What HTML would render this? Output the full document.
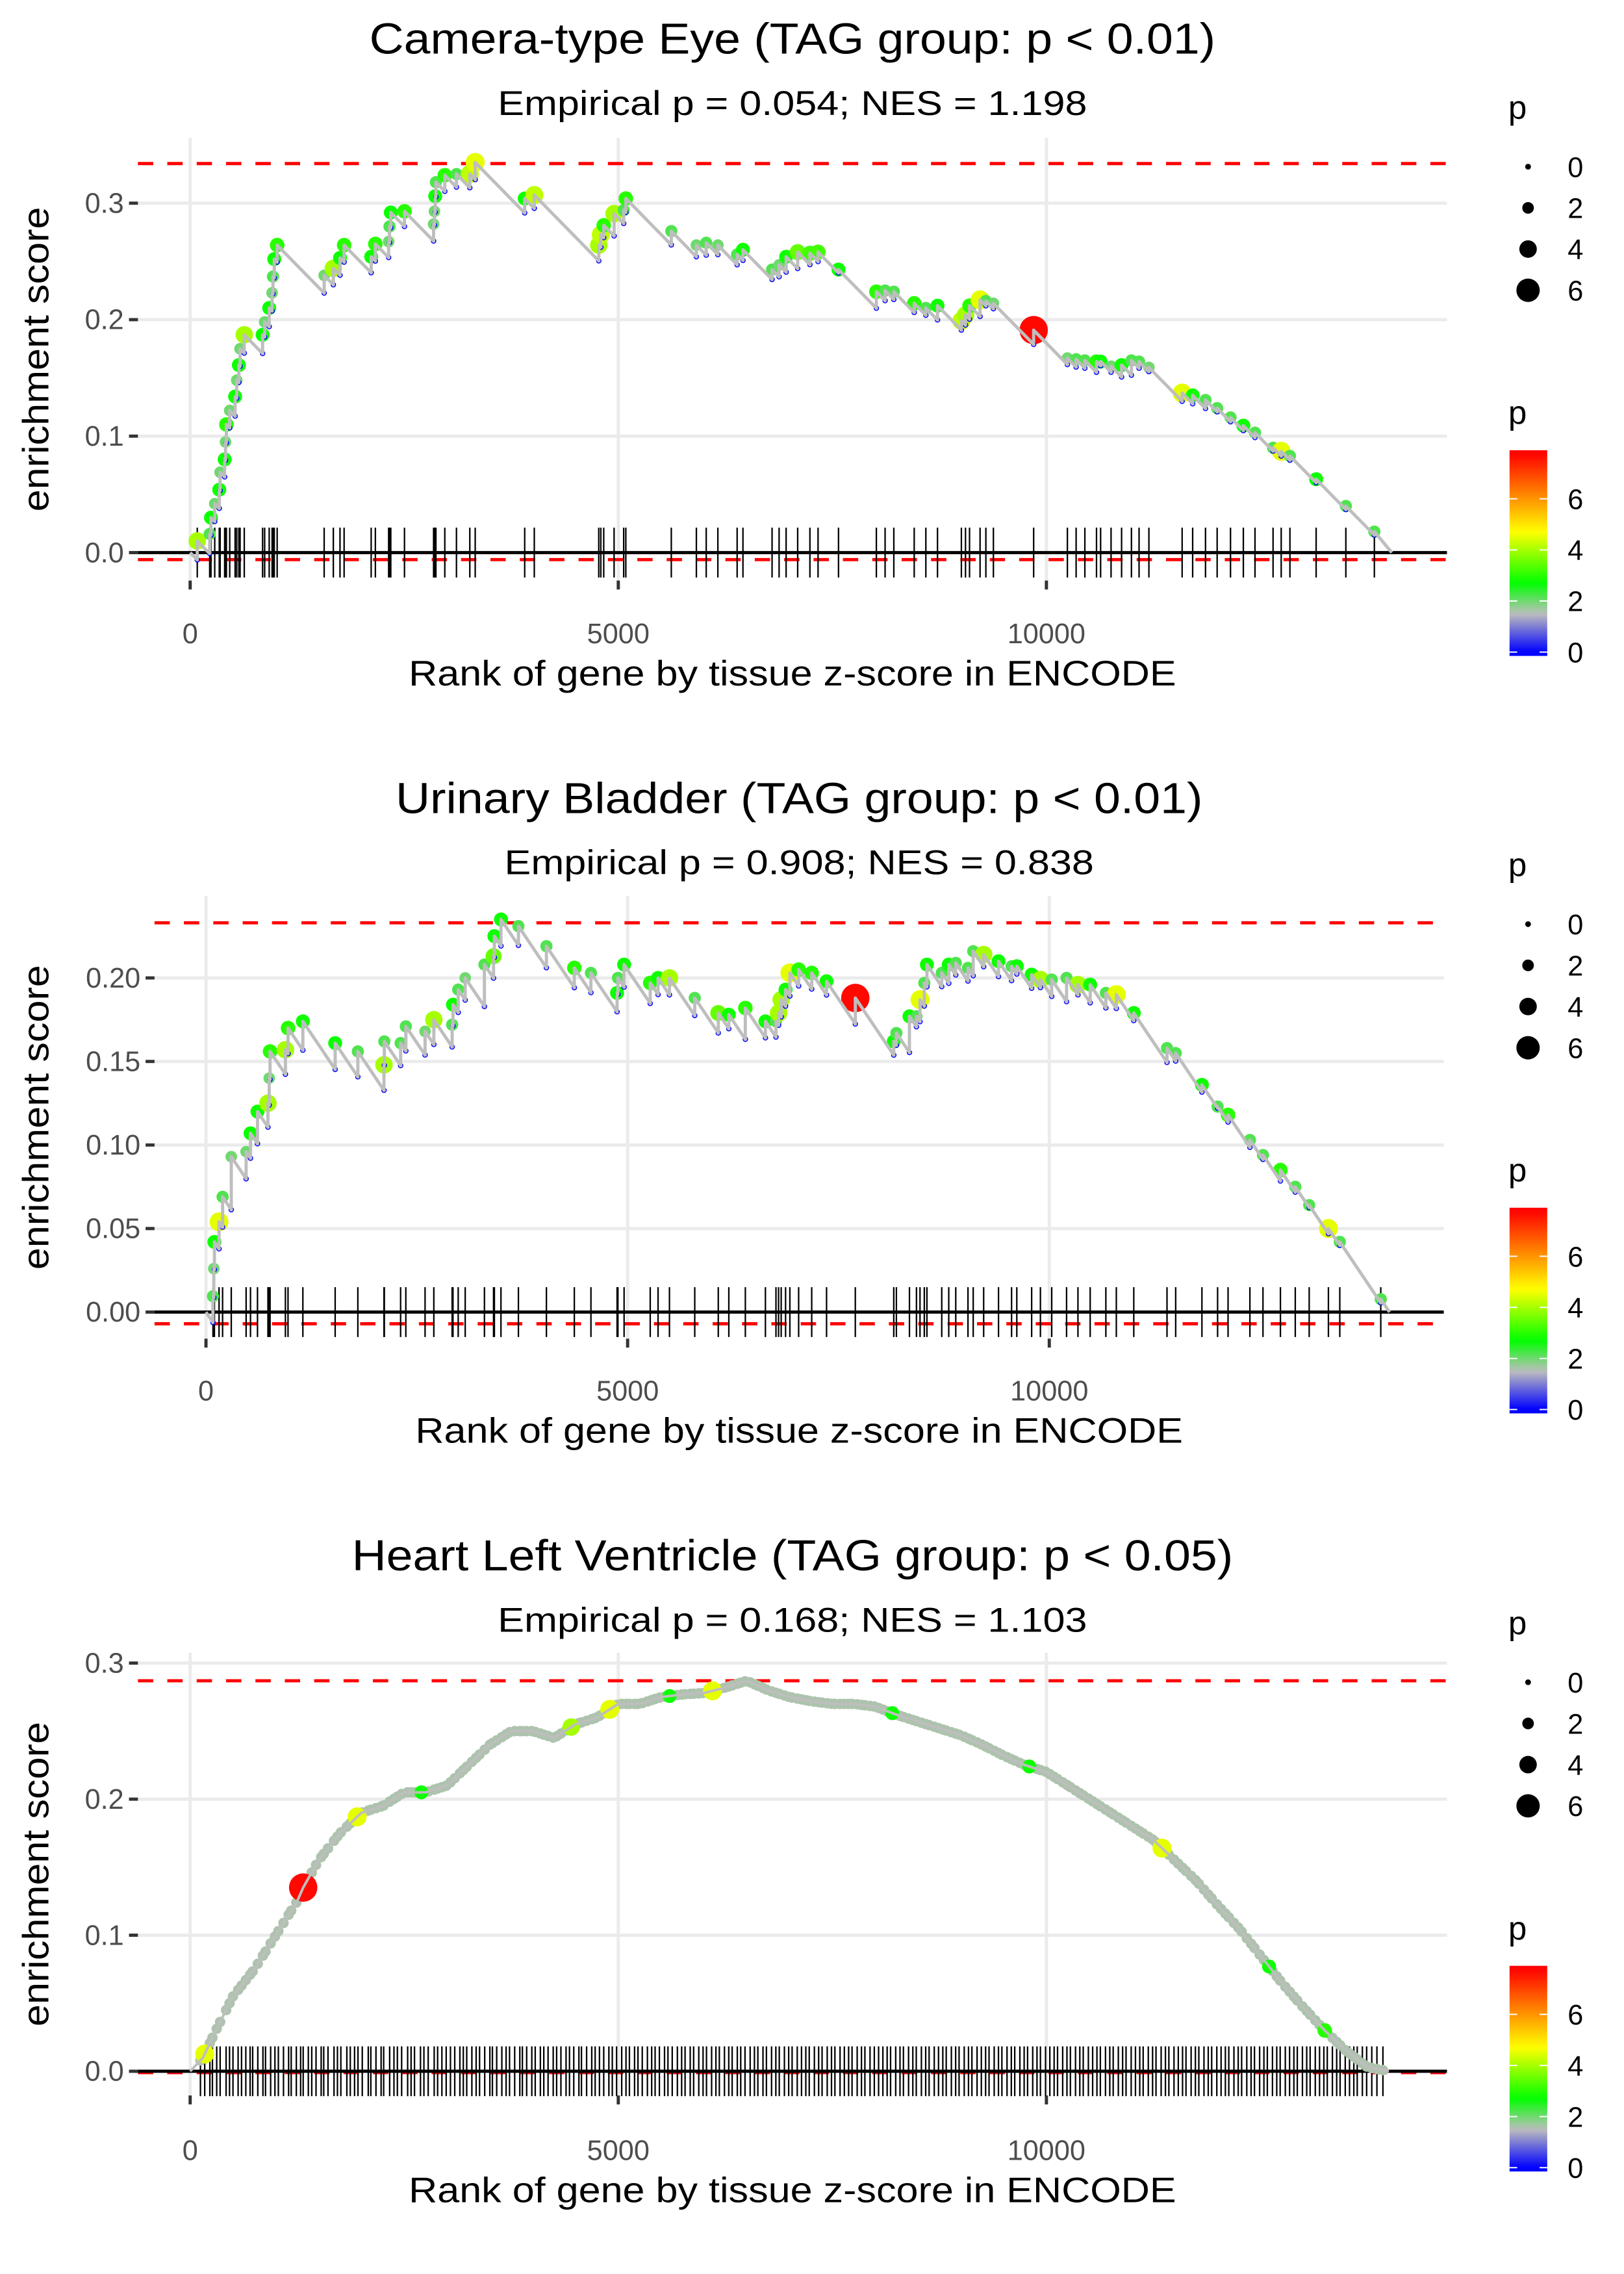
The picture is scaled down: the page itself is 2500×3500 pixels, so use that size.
<!DOCTYPE html>
<html><head><meta charset="utf-8"><style>
html,body{margin:0;padding:0;background:#fff;}
svg{display:block;}
text{font-family:"Liberation Sans",Arial,sans-serif;}
</style></head>
<body>
<svg id="chart" xmlns="http://www.w3.org/2000/svg" width="2500" height="3500" viewBox="0 0 2500 3500">
<defs>
<linearGradient id="pgrad" x1="0" y1="1" x2="0" y2="0"></linearGradient>
</defs>
<rect x="0" y="0" width="2500" height="3500" fill="#fff"/>
<g id="root" transform="scale(0.983)"></g>
</svg>
<script>
// ---------------- Panel 1 data: Camera-type Eye ----------------
const p1Rank = [83,228,243,287,340,350,403,413,423,462,525,544,569,583,632,846,870,923,957,967,982,1016,1565,1672,1750,1798,2114,2163,2318,2328,2343,2503,2843,2853,2862,2870,2974,3110,3266,3329,3907,4019,4772,4796,4830,4951,5063,5088,5619,5912,6027,6163,6388,6456,6796,6878,6960,7095,7238,7333,7572,8014,8116,8218,8456,8592,8728,9007,9055,9102,9225,9293,9381,9851,10245,10347,10449,10585,10633,10755,10878,10993,11082,11197,11585,11708,11858,11994,12150,12300,12436,12647,12742,12844,13150,13497,13830];
const p1ES = [0.010,0.016,0.030,0.042,0.054,0.069,0.080,0.095,0.110,0.122,0.134,0.148,0.161,0.175,0.187,0.187,0.198,0.210,0.223,0.237,0.252,0.264,0.238,0.244,0.253,0.264,0.254,0.265,0.267,0.280,0.292,0.293,0.282,0.293,0.306,0.318,0.324,0.325,0.325,0.335,0.304,0.307,0.264,0.273,0.281,0.291,0.294,0.304,0.276,0.264,0.266,0.264,0.256,0.260,0.243,0.247,0.254,0.258,0.257,0.258,0.243,0.224,0.225,0.224,0.214,0.210,0.212,0.199,0.204,0.212,0.217,0.216,0.214,0.191,0.167,0.166,0.165,0.164,0.164,0.160,0.161,0.165,0.164,0.159,0.137,0.135,0.131,0.124,0.116,0.109,0.103,0.090,0.087,0.083,0.063,0.040,0.018];
const p1P = [4,2.2,2.8,2.0,2.8,2.0,2.8,2.0,3.0,2.0,2.8,2.0,2.8,2.0,4.0,2.8,2.0,2.8,2.0,2.2,2.8,3.0,2.0,4.0,2.8,3.0,2.8,3.0,2.0,2.2,2.8,3.0,2.0,2.0,2.8,2.2,3.0,2.2,4.2,4.5,2.8,4.2,4.0,4.2,3.0,4.0,2.2,3.0,2.2,2.0,2.2,2.0,2.2,2.8,2.2,2.0,2.8,3.5,3.2,3.2,2.8,3.0,2.2,2.2,3.0,2.2,2.8,4.2,4.0,3.0,4.5,2.2,2.0,7.7,2.0,2.2,2.2,3.0,2.8,2.0,2.8,2.2,2.2,2.0,4.5,2.8,2.2,2.2,2.2,2.8,2.2,2.2,4.5,2.2,2.8,2.2,2.2];
const p1EndRank = 14034;
const p1MissStep = 0.000075;
const p1Limits = [0.334, -0.006];

// ---------------- Panel 2 data: Urinary Bladder ----------------
const p2Rank = [83,93,100,155,197,300,476,528,611,735,750,760,942,973,1149,1532,1801,2111,2115,2308,2370,2598,2702,2919,2929,2991,3074,3302,3410,3420,3498,3705,4037,4368,4565,4875,4885,4958,5268,5361,5496,5796,6075,6200,6396,6634,6759,6790,6821,6873,6924,7028,7183,7359,7700,8156,8187,8342,8425,8467,8518,8549,8725,8808,8891,9036,9098,9222,9398,9553,9615,9791,9895,10029,10205,10340,10485,10671,10795,11002,11396,11499,11810,11996,12120,12379,12534,12741,12917,13082,13310,13445,13931];
const p2ES = [0.0095,0.026,0.042,0.054,0.069,0.093,0.096,0.107,0.120,0.125,0.140,0.156,0.157,0.170,0.174,0.161,0.156,0.148,0.162,0.161,0.171,0.168,0.175,0.172,0.184,0.193,0.200,0.208,0.213,0.225,0.235,0.231,0.219,0.206,0.203,0.191,0.200,0.208,0.197,0.200,0.200,0.188,0.179,0.178,0.182,0.174,0.174,0.179,0.187,0.193,0.203,0.205,0.203,0.198,0.188,0.162,0.167,0.177,0.177,0.187,0.197,0.208,0.203,0.208,0.209,0.206,0.216,0.214,0.210,0.207,0.207,0.202,0.199,0.199,0.200,0.196,0.196,0.191,0.190,0.179,0.158,0.155,0.136,0.123,0.118,0.103,0.094,0.085,0.075,0.064,0.050,0.042,0.0077];
const p2P = [2.2,2.0,2.8,4.5,2.2,2.0,2.0,2.8,2.8,4.0,2.0,3.0,4.0,3.0,2.8,2.8,2.2,4.0,2.2,2.2,2.2,2.0,4.0,2.2,2.8,2.2,2.0,2.2,3.5,2.8,2.8,2.2,2.2,3.0,2.2,2.8,2.2,2.8,3.0,2.8,4.0,2.2,3.5,2.8,3.0,2.8,2.2,4.0,4.0,2.8,4.5,3.0,3.0,2.8,7.7,2.8,2.2,2.8,2.2,4.5,2.2,2.8,2.2,2.8,2.2,2.2,2.2,4.0,2.8,2.2,2.8,2.8,4.0,2.2,2.2,4.0,2.8,2.2,4.5,2.8,2.2,2.2,2.8,2.2,3.0,2.2,2.2,3.0,2.2,2.2,4.5,2.2,2.2];
const p2EndRank = 14035;
const p2MissStep = 0.000075;
const p2Limits = [0.233, -0.007];

// ---------------- Panel 3 data: Heart Left Ventricle ----------------
const p3CurveRank = [0,150,300,500,750,1000,1250,1320,1500,1750,2000,2250,2500,2750,3000,3250,3500,3750,4000,4250,4500,4750,5000,5250,5500,5750,6000,6250,6500,6750,7000,7250,7500,7750,8000,8250,8500,8750,9000,9250,9500,9750,10000,10250,10500,10750,11000,11250,11500,11750,12000,12250,12500,12750,13000,13250,13500,13750,14000];
const p3CurveES = [0,0.010,0.030,0.055,0.075,0.100,0.125,0.135,0.155,0.175,0.190,0.195,0.205,0.205,0.210,0.225,0.240,0.250,0.250,0.245,0.255,0.260,0.270,0.270,0.275,0.277,0.278,0.282,0.287,0.280,0.275,0.272,0.270,0.270,0.268,0.262,0.257,0.252,0.247,0.240,0.232,0.225,0.220,0.210,0.200,0.190,0.180,0.170,0.155,0.140,0.122,0.105,0.085,0.065,0.047,0.030,0.015,0.003,0];
const p3HitRank = [120,170,230,260,310,350,420,460,500,560,600,650,700,730,790,850,880,940,990,1030,1090,1150,1180,1240,1290,1320,1380,1420,1470,1530,1560,1610,1680,1720,1760,1830,1870,1920,1960,2010,2080,2110,2170,2230,2260,2330,2380,2420,2470,2540,2580,2620,2690,2730,2780,2850,2890,2940,2990,3040,3090,3150,3190,3230,3290,3340,3380,3440,3500,3530,3580,3640,3690,3730,3790,3850,3880,3930,3990,4030,4090,4130,4180,4240,4280,4330,4390,4430,4480,4540,4570,4630,4690,4730,4780,4830,4890,4930,4980,5040,5090,5130,5190,5230,5280,5340,5390,5430,5480,5540,5580,5630,5690,5740,5780,5840,5880,5940,5990,6030,6090,6140,6180,6240,6290,6330,6390,6430,6480,6540,6590,6630,6690,6730,6790,6840,6880,6940,6990,7030,7090,7140,7190,7230,7290,7340,7380,7440,7490,7530,7590,7640,7690,7730,7790,7840,7880,7940,7990,8040,8090,8140,8180,8240,8290,8330,8390,8440,8480,8540,8590,8630,8690,8740,8790,8830,8890,8940,8980,9040,9090,9130,9190,9240,9290,9330,9390,9440,9480,9540,9590,9630,9690,9740,9780,9840,9890,9930,9990,10040,10090,10130,10190,10240,10280,10340,10390,10430,10490,10540,10590,10630,10690,10740,10780,10840,10890,10930,10990,11040,11090,11130,11190,11240,11280,11340,11390,11430,11490,11540,11590,11630,11690,11740,11780,11840,11890,11930,11990,12040,12090,12130,12190,12240,12280,12340,12390,12430,12490,12540,12580,12640,12690,12730,12790,12840,12890,12930,12990,13040,13080,13140,13190,13240,13280,13340,13390,13430,13490,13540,13590,13630,13690,13740,13800,13860,13930];
const p3DefaultP = 1.6;
const p3HiRank = [170, 1320, 1950, 4450, 4900, 6100, 11350, 13250, 2700, 5600, 8200, 9800, 12600];
const p3HiP = [4.5, 7.7, 4.5, 4.0, 4.5, 4.5, 4.5, 3.0, 2.8, 2.8, 2.8, 2.8, 2.8];
const p3Limits = [0.287, -0.001];

// ---------------- Shared axis / legend labels ----------------
const xTicks = [0, 5000, 10000];
const xTickLabels = ["0", "5000", "10000"];
const yTicksA = [0, 0.1, 0.2, 0.3];
const yTickLabelsA = ["0.0", "0.1", "0.2", "0.3"];
const yTicksB = [0, 0.05, 0.10, 0.15, 0.20];
const yTickLabelsB = ["0.00", "0.05", "0.10", "0.15", "0.20"];
const sizeLegendValues = [0, 2, 4, 6];
const colorLegendValues = [0, 2, 4, 6];
const colorDomain = [-0.15, 7.9];

const SVGNS = "http://www.w3.org/2000/svg";
const svg = document.getElementById("root");

function mk(tag, attrs, parent) {
  const e = document.createElementNS(SVGNS, tag);
  for (const k in attrs) e.setAttribute(k, attrs[k]);
  (parent || svg).appendChild(e);
  return e;
}

const cStops = [[0,[0,0,255]],[1.5,[190,190,190]],[2.7,[0,255,0]],[4.7,[255,255,0]],[7.8,[255,0,0]]];
function pColor(p) {
  if (p <= cStops[0][0]) return "rgb(0,0,255)";
  for (let i = 1; i < cStops.length; i++) {
    if (p <= cStops[i][0]) {
      const a = cStops[i-1], b = cStops[i];
      const t = (p - a[0]) / (b[0] - a[0]);
      const c = a[1].map((v, j) => Math.round(v + (b[1][j] - v) * t));
      return "rgb(" + c.join(",") + ")";
    }
  }
  return "rgb(255,0,0)";
}
function pRadius(p) { return 4.5 + 2.3 * Math.max(0, p); }

(function(){
  const g = document.getElementById("pgrad");
  for (let i = 0; i <= 40; i++) {
    const p = colorDomain[0] + (colorDomain[1] - colorDomain[0]) * i / 40;
    const s = document.createElementNS(SVGNS, "stop");
    s.setAttribute("offset", (i / 40 * 100) + "%");
    s.setAttribute("stop-color", pColor(p));
    g.appendChild(s);
  }
})();

function interp(xs, ys, x) {
  if (x <= xs[0]) return ys[0];
  for (let i = 1; i < xs.length; i++) {
    if (x <= xs[i]) {
      const t = (x - xs[i-1]) / (xs[i] - xs[i-1]);
      return ys[i-1] + (ys[i] - ys[i-1]) * t;
    }
  }
  return ys[ys.length - 1];
}

function drawPanel(cfg) {
  const g = mk("g", {});
  
  
  const X = r => cfg.left + (r - cfg.xdom[0]) / (cfg.xdom[1] - cfg.xdom[0]) * (cfg.right - cfg.left);
  const Y = v => cfg.bottom - (v - cfg.ydom[0]) / (cfg.ydom[1] - cfg.ydom[0]) * (cfg.bottom - cfg.top);

  cfg.yTicks.forEach((t, i) => {
    const l = mk("line", {x1: cfg.left, x2: cfg.right, y1: Y(t), y2: Y(t), stroke: "#ebebeb", "stroke-width": 5}, g);
    
    
  });
  xTicks.forEach(t => {
    const l = mk("line", {x1: X(t), x2: X(t), y1: cfg.top, y2: cfg.bottom, stroke: "#ebebeb", "stroke-width": 5}, g);
    
    
  });

  cfg.yTicks.forEach((t, i) => {
    const tk = mk("line", {x1: cfg.left - 14, x2: cfg.left, y1: Y(t), y2: Y(t), stroke: "#333", "stroke-width": 5}, g);
    
    
    const tx = mk("text", {x: cfg.left - 22, y: Y(t) + 15, "text-anchor": "end", "font-size": 44, fill: "#4d4d4d"}, g);
    tx.textContent = cfg.yLabels[i];
    
    
  });
  xTicks.forEach((t, i) => {
    const tk = mk("line", {x1: X(t), x2: X(t), y1: cfg.bottom, y2: cfg.bottom + 14, stroke: "#333", "stroke-width": 5}, g);
    
    
    const tx = mk("text", {x: X(t), y: cfg.xLabY, "text-anchor": "middle", "font-size": 44, fill: "#4d4d4d"}, g);
    tx.textContent = xTickLabels[i];
    
    
  });

  cfg.limits.forEach(v => {
    const l = mk("line", {x1: cfg.left, x2: cfg.right, y1: Y(v), y2: Y(v), stroke: "#ff0000", "stroke-width": 5, "stroke-dasharray": "24 22"}, g);
    
    
  });

  const z = mk("line", {x1: cfg.left, x2: cfg.right, y1: Y(0), y2: Y(0), stroke: "#000", "stroke-width": 5}, g);
  
  

  cfg.rug.forEach(r => {
    const l = mk("line", {x1: X(r), x2: X(r), y1: Y(0) - 39, y2: Y(0) + 39, stroke: "#000", "stroke-width": 2.3}, g);
    
    
  });

  cfg.points.forEach(pt => {
    const c = mk("circle", {cx: X(pt[0]), cy: Y(pt[1]), r: pRadius(pt[2]), fill: pColor(pt[2])}, g);
    
    
  });
  (cfg.prePoints || []).forEach(pt => {
    const c = mk("circle", {cx: X(pt[0]), cy: Y(pt[1]), r: 3.5, fill: "none", stroke: "#0000ff", "stroke-width": 1.5}, g);
    
    
  });

  const d = cfg.line.map((p, i) => (i ? "L" : "M") + X(p[0]).toFixed(1) + "," + Y(p[1]).toFixed(1)).join(" ");
  const pl = mk("path", {d: d, fill: "none", stroke: "#bebebe", "stroke-width": cfg.lineW || 5, "stroke-linejoin": "round"}, g);
  
  

  const cx = (cfg.left + cfg.right) / 2;
  const t1 = mk("text", {x: cx, y: cfg.titleY, "text-anchor": "middle", "font-size": 68, fill: "#000", textLength: cfg.titleW, lengthAdjust: "spacingAndGlyphs"}, g);
  t1.textContent = cfg.title;
  
  
  const t2 = mk("text", {x: cx, y: cfg.titleY + 96, "text-anchor": "middle", "font-size": 54, fill: "#000", textLength: 923, lengthAdjust: "spacingAndGlyphs"}, g);
  t2.textContent = cfg.subtitle;
  
  
  const xt = mk("text", {x: cx, y: cfg.xLabY + 66, "text-anchor": "middle", "font-size": 56, fill: "#000", textLength: 1202, lengthAdjust: "spacingAndGlyphs"}, g);
  xt.textContent = "Rank of gene by tissue z-score in ENCODE";
  
  
  const ycy = (cfg.top + cfg.bottom) / 2;
  const yt = mk("text", {x: 0, y: 0, "text-anchor": "middle", "font-size": 58, fill: "#000", textLength: 477, lengthAdjust: "spacingAndGlyphs", transform: "translate(76," + ycy + ") rotate(-90)"}, g);
  yt.textContent = "enrichment score";
  
  

  const oy = cfg.legendOffset;
  const lg = mk("g", {}, g);
  
  
  const lt = mk("text", {x: 2362, y: 186 + oy, "font-size": 52, fill: "#000"}, lg);
  lt.textContent = "p";
  
  
  sizeLegendValues.forEach((v, i) => {
    const yy = 261 + i * 64.5 + oy;
    const c = mk("circle", {cx: 2393, cy: yy, r: pRadius(v), fill: "#000"}, lg);
    
    
    const tx = mk("text", {x: 2455, y: yy + 16, "font-size": 44, fill: "#000"}, lg);
    tx.textContent = String(v);
    
    
  });
  const cg = mk("g", {}, g);
  
  
  const ct = mk("text", {x: 2362, y: 664 + oy, "font-size": 52, fill: "#000"}, cg);
  ct.textContent = "p";
  
  
  const barTop = 705 + oy, barBot = 1027 + oy;
  const bar = mk("rect", {x: 2364, y: barTop, width: 59, height: barBot - barTop, fill: "url(#pgrad)"}, cg);
  
  
  const CY = v => barBot - (v - colorDomain[0]) / (colorDomain[1] - colorDomain[0]) * (barBot - barTop);
  colorLegendValues.forEach(v => {
    const a = mk("line", {x1: 2364, x2: 2376, y1: CY(v), y2: CY(v), stroke: "#fff", "stroke-width": 2}, cg);
    
    
    const b = mk("line", {x1: 2411, x2: 2423, y1: CY(v), y2: CY(v), stroke: "#fff", "stroke-width": 2}, cg);
    
    
    const tx = mk("text", {x: 2455, y: CY(v) + 16, "font-size": 44, fill: "#000"}, cg);
    tx.textContent = String(v);
    
    
  });
}

function sawtooth(ranks, es, ps, endRank, step) {
  const line = [[0, 0]], points = [], pre = [];
  let prevR = 0, prevE = 0;
  for (let i = 0; i < ranks.length; i++) {
    const before = prevE - step * (ranks[i] - prevR);
    line.push([ranks[i], before]);
    line.push([ranks[i], es[i]]);
    pre.push([ranks[i], before]);
    points.push([ranks[i], es[i], ps[i]]);
    prevR = ranks[i]; prevE = es[i];
  }
  line.push([endRank, 0]);
  return {line, points, pre};
}

const s1 = sawtooth(p1Rank, p1ES, p1P, p1EndRank, p1MissStep);
drawPanel({
  name: "panel-camera-type-eye", left: 216, right: 2266, top: 216, bottom: 909,
  xdom: [-610, 14678], ydom: [-0.024, 0.356],
  yTicks: yTicksA, yLabels: yTickLabelsA, xLabY: 1007,
  limits: p1Limits, rug: p1Rank, points: s1.points, prePoints: s1.pre, line: s1.line,
  title: "Camera-type Eye (TAG group: p < 0.01)", titleW: 1325, titleY: 84,
  subtitle: "Empirical p = 0.054; NES = 1.198", legendOffset: 0
});

const s2 = sawtooth(p2Rank, p2ES, p2P, p2EndRank, p2MissStep);
drawPanel({
  name: "panel-urinary-bladder", left: 242, right: 2261, top: 1403, bottom: 2096,
  xdom: [-610, 14678], ydom: [-0.0159, 0.249],
  yTicks: yTicksB, yLabels: yTickLabelsB, xLabY: 2193,
  limits: p2Limits, rug: p2Rank, points: s2.points, prePoints: s2.pre, line: s2.line,
  title: "Urinary Bladder (TAG group: p < 0.01)", titleW: 1264, titleY: 1273,
  subtitle: "Empirical p = 0.908; NES = 0.838", legendOffset: 1186
});

const p3Points = p3HitRank.map(r => [r, interp(p3CurveRank, p3CurveES, r), p3DefaultP]);
p3HiRank.forEach((r, i) => p3Points.push([r, interp(p3CurveRank, p3CurveES, r), p3HiP[i]]));
drawPanel({
  name: "panel-heart-left-ventricle", left: 216, right: 2266, top: 2588, bottom: 3281,
  xdom: [-610, 14678], ydom: [-0.0178, 0.3075],
  yTicks: yTicksA, yLabels: yTickLabelsA, xLabY: 3382,
  limits: p3Limits, rug: p3HitRank, points: p3Points, prePoints: [],
  line: p3CurveRank.map((r, i) => [r, p3CurveES[i]]), lineW: 4,
  title: "Heart Left Ventricle (TAG group: p < 0.05)", titleW: 1380, titleY: 2459,
  subtitle: "Empirical p = 0.168; NES = 1.103", legendOffset: 2373
});
</script>
</body></html>
